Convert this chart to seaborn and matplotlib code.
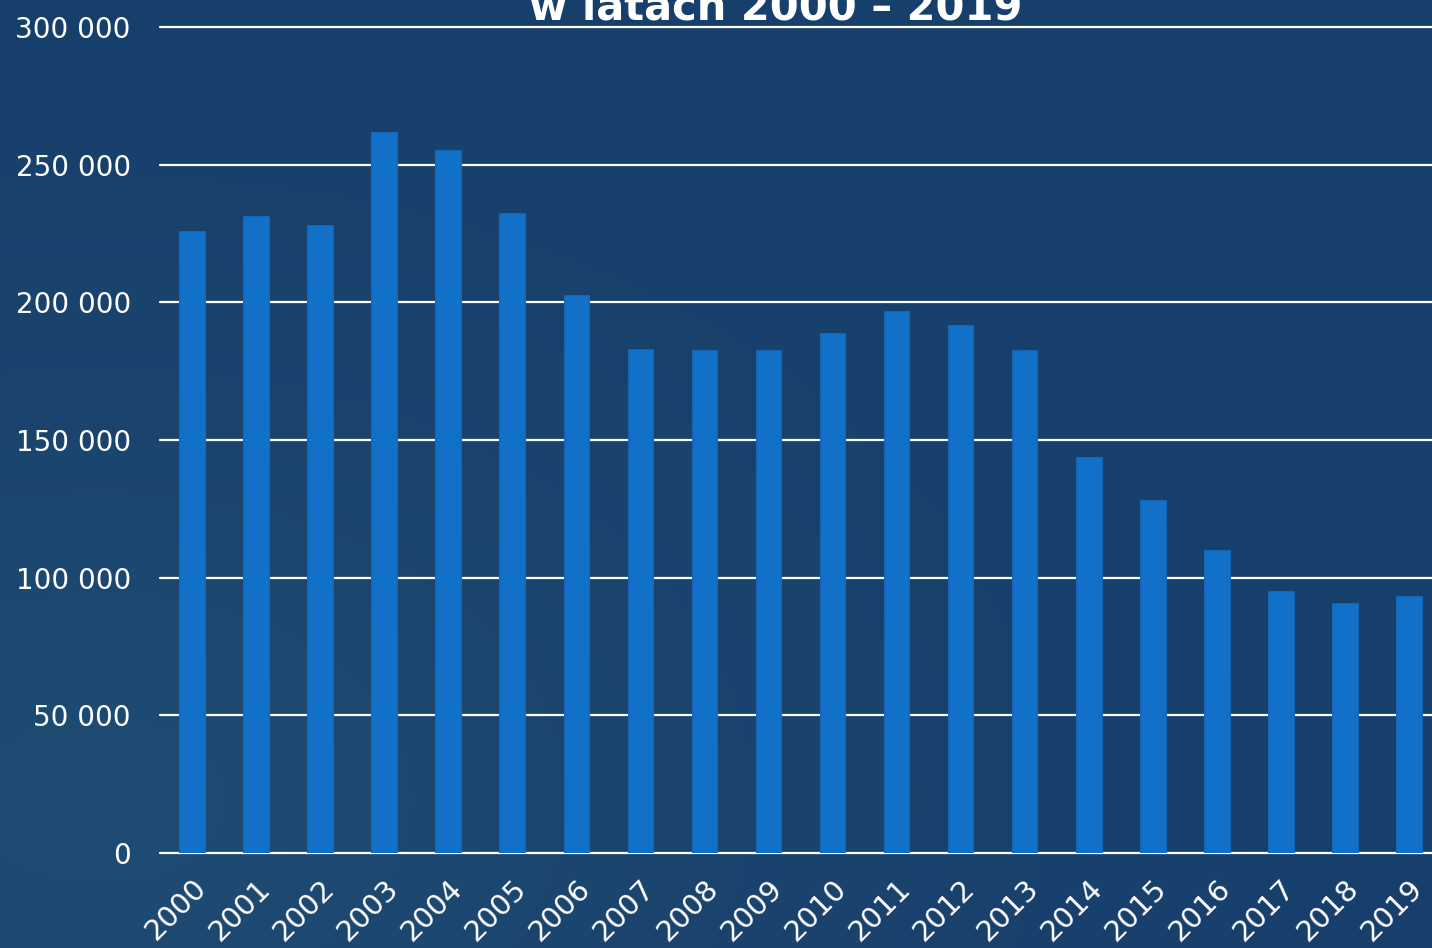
import numpy as np
import pandas as pd
import matplotlib
matplotlib.use("Agg")
import matplotlib.pyplot as plt
import seaborn as sns

years = [str(y) for y in range(2000, 2020)]
values = [226000, 231400, 228100, 261900, 255300, 232400, 202700, 183100, 182700, 182700,
          188900, 196900, 191800, 182700, 143800, 128200, 110000, 95200, 90800, 93300]
yticks = [0, 50000, 100000, 150000, 200000, 250000, 300000]
ytick_labels = ["0", "50 000", "100 000", "150 000", "200 000", "250 000", "300 000"]
title = "w latach 2000 – 2019"

sns.set_theme(style="dark")
plt.rcParams['font.family'] = ['DejaVu Sans']

W, H = 1432, 948
fig = plt.figure(figsize=(W / 100, H / 100), dpi=100)
bg = "#18406c"
fig.patch.set_facecolor(bg)

# subtle radial background gradient (lighter lower-left)
bgax = fig.add_axes([0, 0, 1, 1], zorder=-10)
yy, xx = np.mgrid[0:H, 0:W]
d = np.sqrt(((xx - 100) / W) ** 2 + ((yy - 800) / H) ** 2)
t = np.clip(1 - d / 0.8, 0, 1) ** 1.5
c0 = np.array([24, 64, 108]) / 255
c1 = np.array([31, 77, 116]) / 255
img = c0[None, None, :] * (1 - t[..., None]) + c1[None, None, :] * t[..., None]
bgax.imshow(img, aspect="auto", extent=[0, 1, 0, 1], origin="upper")
bgax.axis("off")

left = 160 / W
right_px = 1441
bottom = (H - 853) / H
top = (H - 27) / H
ax = fig.add_axes([left, bottom, (right_px - 160) / W, top - bottom])
ax.set_facecolor("none")

df = pd.DataFrame({"year": years, "value": values})
sns.barplot(data=df, x="year", y="value", color="#1170c8", width=0.4, saturation=1,
            edgecolor="#1565b5", linewidth=0.8, ax=ax, zorder=3)

ax.set_xlim(-0.5, len(years) - 0.5)
ax.set_ylim(0, 300000)
ax.set_yticks(yticks)
ax.set_yticklabels(ytick_labels, color="white", fontsize=20)
ax.yaxis.grid(True, color="white", linewidth=1.6, zorder=0)
for gl in ax.get_ygridlines():
    gl.set_clip_on(False)
ax.set_axisbelow(True)
ax.set_xlabel("")
ax.set_ylabel("")
ax.tick_params(axis="y", length=0, pad=21)
ax.tick_params(axis="x", length=0, pad=15)
for lbl in ax.get_xticklabels():
    lbl.set_rotation(45)
    lbl.set_ha("right")
    lbl.set_rotation_mode("anchor")
    lbl.set_color("white")
    lbl.set_fontsize(21)
for s in ax.spines.values():
    s.set_visible(False)

fig.text(776 / W, 1 - 19 / H, title, color="white", fontsize=30, fontweight="bold",
         ha="center", va="baseline")

fig.savefig("out.png", dpi=100, facecolor=fig.get_facecolor())
